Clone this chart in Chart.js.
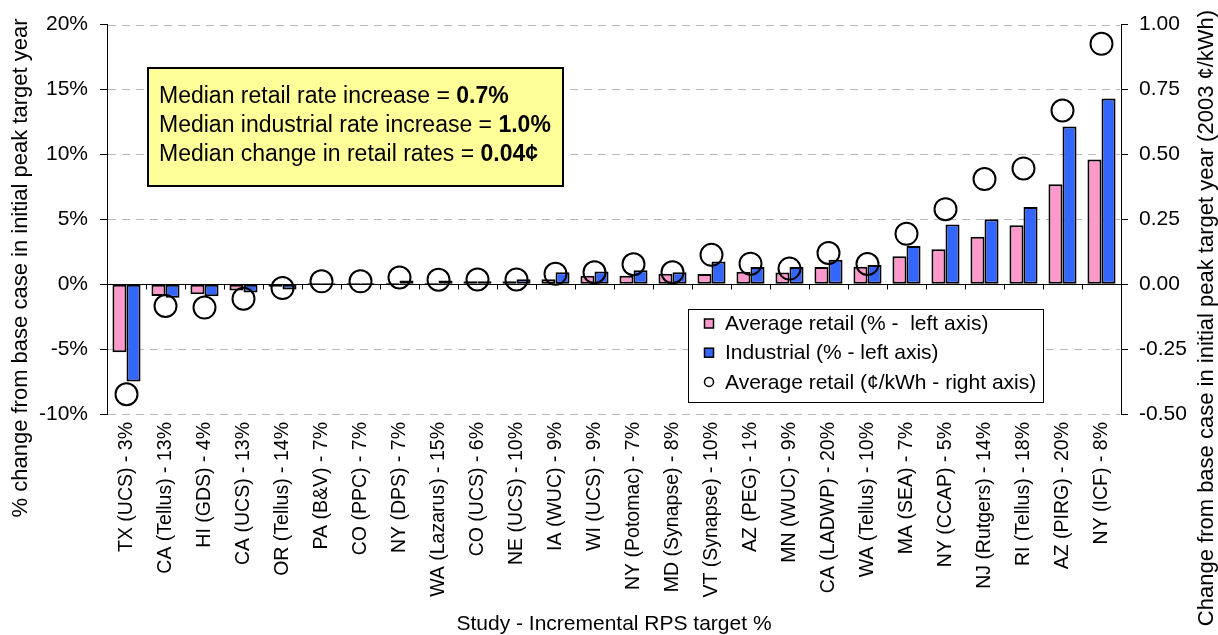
<!DOCTYPE html>
<html>
<head>
<meta charset="utf-8">
<script src="https://cdn.jsdelivr.net/npm/chart.js@4"></script>
<style>
  html, body { margin: 0; padding: 0; background: #ffffff; }
  #wrap { width: 1218px; height: 635px; position: relative; }
</style>
</head>
<body>
<div id="wrap"><canvas id="chart"></canvas></div>
<script>
// Studies, sorted by retail rate impact
const studies = [
  "TX (UCS) - 3%", "CA (Tellus) - 13%", "HI (GDS) - 4%", "CA (UCS) - 13%",
  "OR (Tellus) - 14%", "PA (B&V) - 7%", "CO (PPC) - 7%", "NY (DPS) - 7%",
  "WA (Lazarus) - 15%", "CO (UCS) - 6%", "NE (UCS) - 10%", "IA (WUC) - 9%",
  "WI (UCS) - 9%", "NY (Potomac) - 7%", "MD (Synapse) - 8%", "VT (Synapse) - 10%",
  "AZ (PEG) - 1%", "MN (WUC) - 9%", "CA (LADWP) - 20%", "WA (Tellus) - 10%",
  "MA (SEA) - 7%", "NY (CCAP) - 5%", "NJ (Rutgers) - 14%", "RI (Tellus) - 18%",
  "AZ (PIRG) - 20%", "NY (ICF) - 8%"
];

// Average retail rate change, % (left axis)
const retailPct = [
  -5.25, -0.9, -0.78, -0.48, -0.2, 0.1, 0.1, 0.1,
  0.1, 0.22, 0.22, 0.38, 0.65, 0.65, 0.8, 0.78,
  0.95, 0.9, 1.33, 1.35, 2.15, 2.7, 3.65, 4.55,
  7.7, 9.6
];

// Industrial rate change, % (left axis)
const industrialPct = [
  -7.5, -1.05, -0.92, -0.63, -0.4, 0.1, 0.1, 0.28,
  0.28, 0.22, 0.38, 0.93, 0.97, 1.07, 0.93, 1.75,
  1.33, 1.33, 1.88, 1.48, 2.95, 4.6, 5.0, 5.95,
  12.15, 14.3
];

// Average retail rate change, 2003 cents/kWh (right axis)
const retailCents = [
  -0.424, -0.084, -0.09, -0.056, -0.015, 0.011, 0.011, 0.026,
  0.017, 0.018, 0.018, 0.04, 0.046, 0.077, 0.046, 0.113,
  0.079, 0.06, 0.12, 0.078, 0.194, 0.289, 0.405, 0.446,
  0.669, 0.926
];

// Axis ranges
const pctRange = { min: -10, max: 20, step: 5 };
const centRange = { min: -0.5, max: 1.0, step: 0.25 };

// Summary box lines: regular text, bold value
const summaryLines = [
  ["Median retail rate increase = ", "0.7%"],
  ["Median industrial rate increase = ", "1.0%"],
  ["Median change in retail rates = ", "0.04\u00A2"]
];

const seriesNames = [
  "Average retail (% -  left axis)",
  "Industrial (% - left axis)",
  "Average retail (\u00A2/kWh - right axis)"
];

const leftTitle = "% change from base case in initial peak target year";
const rightTitle = "Change from base case in initial peak target year (2003 \u00A2/kWh)";
const bottomTitle = "Study - Incremental RPS target %";

const FONT = "'Liberation Sans', Arial, Helvetica, sans-serif";
const PINK = "#FF99CC";
const BLUE = "#3366FF";

// Dashed horizontal grid, zero line and category tick marks, behind the bars
const backdrop = {
  id: "backdrop",
  beforeDatasetsDraw(chart) {
    const ctx = chart.ctx;
    const x = chart.scales.x, y = chart.scales.y;
    ctx.save();

    // dashed grid at every left-axis tick
    ctx.strokeStyle = "#B8B8B8";
    ctx.lineWidth = 1;
    ctx.setLineDash([8, 6]);
    y.ticks.forEach(t => {
      if (t.value === 0) return;
      const yp = Math.round(y.getPixelForValue(t.value)) + 0.5;
      ctx.beginPath();
      ctx.moveTo(x.left + 1, yp);
      ctx.lineTo(x.right - 1, yp);
      ctx.stroke();
    });
    ctx.setLineDash([]);

    // zero line with tick marks between studies
    const y0 = Math.round(y.getPixelForValue(0)) + 0.5;
    const n = studies.length;
    const w = (x.right - x.left) / n;
    ctx.strokeStyle = "#000";
    ctx.beginPath();
    ctx.moveTo(x.left, y0);
    ctx.lineTo(x.right, y0);
    for (let i = 1; i < n; i++) {
      const xp = Math.round(x.left + i * w) + 0.5;
      ctx.moveTo(xp, y0);
      ctx.lineTo(xp, y0 + 5);
    }
    ctx.stroke();
    ctx.restore();
  }
};

// Summary box, legend and axis titles
const overlays = {
  id: "overlays",
  afterDraw(chart) {
    const ctx = chart.ctx;
    ctx.save();

    // summary box
    ctx.fillStyle = "#FFFF99";
    ctx.fillRect(148, 68, 415, 118);
    ctx.strokeStyle = "#000";
    ctx.lineWidth = 2;
    ctx.strokeRect(148, 68, 415, 118);
    ctx.fillStyle = "#000";
    ctx.textBaseline = "alphabetic";
    ctx.textAlign = "left";
    summaryLines.forEach((ln, i) => {
      const by = 103 + i * 29.2;
      ctx.font = "23px " + FONT;
      ctx.fillText(ln[0], 159, by);
      const w = ctx.measureText(ln[0]).width;
      ctx.font = "bold 23px " + FONT;
      ctx.fillText(ln[1], 159 + w, by);
    });

    // legend
    ctx.fillStyle = "#fff";
    ctx.fillRect(688, 309, 355, 93);
    ctx.strokeStyle = "#000";
    ctx.lineWidth = 1;
    ctx.strokeRect(688.5, 309.5, 355, 93);
    const ds = chart.data.datasets;
    ctx.font = "21px " + FONT;
    ctx.textBaseline = "middle";
    ds.forEach((d, i) => {
      const cy = 323.5 + i * 29.2;
      if (d.type === "line") {
        ctx.beginPath();
        ctx.arc(709, cy, 4.5, 0, Math.PI * 2);
        ctx.fillStyle = "#fff";
        ctx.fill();
        ctx.lineWidth = 1.5;
        ctx.strokeStyle = "#000";
        ctx.stroke();
      } else {
        ctx.fillStyle = d.backgroundColor;
        ctx.fillRect(704.5, cy - 4.5, 9, 9);
        ctx.lineWidth = 1.5;
        ctx.strokeStyle = "#000";
        ctx.strokeRect(704.5, cy - 4.5, 9, 9);
      }
      ctx.fillStyle = "#000";
      ctx.fillText(d.label, 725, cy + 1);
    });

    // axis titles
    ctx.textAlign = "center";
    ctx.textBaseline = "middle";
    ctx.fillStyle = "#000";
    const xs = chart.scales.x;
    ctx.font = "21px " + FONT;
    ctx.fillText(bottomTitle, (xs.left + xs.right) / 2, 624);

    ctx.font = "22px " + FONT;
    ctx.save();
    ctx.translate(21, 268);
    ctx.rotate(-Math.PI / 2);
    ctx.fillText(leftTitle, 0, 0);
    ctx.restore();

    ctx.save();
    ctx.translate(1207, 318);
    ctx.rotate(-Math.PI / 2);
    ctx.fillText(rightTitle, 0, 0);
    ctx.restore();

    ctx.restore();
  }
};

new Chart(document.getElementById("chart"), {
  type: "bar",
  data: {
    labels: studies,
    datasets: [
      {
        type: "bar",
        label: seriesNames[0],
        data: retailPct,
        yAxisID: "y",
        backgroundColor: PINK,
        borderColor: "#000",
        borderWidth: 2,
        borderSkipped: false,
        categoryPercentage: 0.72,
        barPercentage: 1.0,
        order: 2
      },
      {
        type: "bar",
        label: seriesNames[1],
        data: industrialPct,
        yAxisID: "y",
        backgroundColor: BLUE,
        borderColor: "#000",
        borderWidth: 2,
        borderSkipped: false,
        categoryPercentage: 0.72,
        barPercentage: 1.0,
        order: 2
      },
      {
        type: "line",
        label: seriesNames[2],
        data: retailCents,
        yAxisID: "y1",
        showLine: false,
        pointStyle: "circle",
        pointRadius: 11,
        pointHoverRadius: 11,
        pointBorderWidth: 2,
        pointBackgroundColor: "rgba(0,0,0,0)",
        pointBorderColor: "#000",
        backgroundColor: "#fff",
        borderColor: "#000",
        order: 1
      }
    ]
  },
  options: {
    responsive: true,
    maintainAspectRatio: false,
    animation: false,
    devicePixelRatio: 1,
    layout: { padding: { top: 23, left: 0, right: 0, bottom: 0 } },
    plugins: {
      legend: { display: false },
      tooltip: { enabled: false },
      title: { display: false }
    },
    scales: {
      x: {
        type: "category",
        offset: true,
        grid: { display: false, drawTicks: false },
        border: { display: false },
        ticks: {
          autoSkip: false,
          maxRotation: 90,
          minRotation: 90,
          padding: 8,
          color: "#000",
          font: { family: FONT, size: 19.5 }
        },
        afterFit(s) { s.height = 221; }
      },
      y: {
        position: "left",
        min: pctRange.min,
        max: pctRange.max,
        ticks: {
          stepSize: pctRange.step,
          padding: 12,
          color: "#000",
          font: { family: FONT, size: 21 },
          callback: v => v + "%"
        },
        grid: {
          drawOnChartArea: false,
          drawTicks: true,
          tickLength: 7,
          tickColor: "#000",
          tickWidth: 1
        },
        border: { display: true, color: "#000", width: 1 },
        afterFit(s) { s.width = 107; }
      },
      y1: {
        position: "right",
        min: centRange.min,
        max: centRange.max,
        ticks: {
          stepSize: centRange.step,
          padding: 11,
          color: "#000",
          font: { family: FONT, size: 21 },
          callback: v => v.toFixed(2)
        },
        grid: {
          drawOnChartArea: false,
          drawTicks: true,
          tickLength: 7,
          tickColor: "#000",
          tickWidth: 1
        },
        border: { display: true, color: "#000", width: 1 },
        afterFit(s) { s.width = 97; }
      }
    }
  },
  plugins: [backdrop, overlays]
});
</script>
</body>
</html>
